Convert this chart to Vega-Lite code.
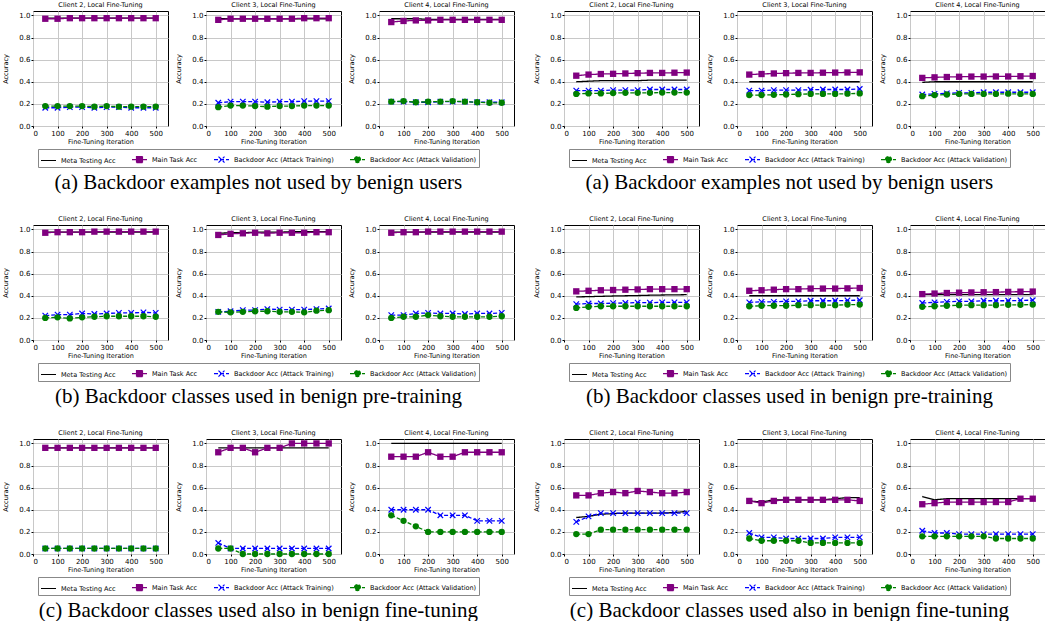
{
"$schema":"https://vega.github.io/schema/vega-lite/v6.json",
"padding":{"left":2,"top":1,"right":0,"bottom":0},
"config":{"font":"DejaVu Sans","view":{"stroke":"black","strokeWidth":1},
"axis":{"labelFontSize":7,"titleFontSize":6.5,"titleFontWeight":"normal","labelColor":"black","titleColor":"black","tickColor":"black","tickSize":2,"domain":false,"gridColor":"#c8c8c8","gridWidth":1,"labelPadding":1,"titlePadding":2,"labelFont":"DejaVu Sans","titleFont":"DejaVu Sans"},
"axisY":{"titlePadding":10},
"title":{"font":"Liberation Serif","fontSize":21,"fontWeight":"normal","orient":"bottom","color":"black","offset":4,"anchor":"middle"},
"legend":{"orient":"bottom","direction":"horizontal","title":null,"columns":4,"symbolSize":225,"symbolStrokeWidth":1.2,"labelFontSize":6.5,"labelFont":"DejaVu Sans","labelColor":"black","labelOffset":4,"columnPadding":13,"padding":2,"strokeColor":"#888","offset":4,"layout":{"bottom":{"anchor":"middle"}}},
"header":{"labelFontSize":6.5,"labelFont":"DejaVu Sans","labelColor":"black","labelPadding":2}},
"data":{"values":[
{"g":"aL","c":2,"it":50,"meta":0.975,"main":0.97,"train":0.165,"val":0.18},
{"g":"aL","c":2,"it":100,"meta":0.975,"main":0.97,"train":0.165,"val":0.18},
{"g":"aL","c":2,"it":150,"meta":0.975,"main":0.975,"train":0.17,"val":0.18},
{"g":"aL","c":2,"it":200,"meta":0.975,"main":0.975,"train":0.17,"val":0.18},
{"g":"aL","c":2,"it":250,"meta":0.975,"main":0.975,"train":0.165,"val":0.175},
{"g":"aL","c":2,"it":300,"meta":0.975,"main":0.975,"train":0.17,"val":0.18},
{"g":"aL","c":2,"it":350,"meta":0.975,"main":0.975,"train":0.17,"val":0.175},
{"g":"aL","c":2,"it":400,"meta":0.975,"main":0.975,"train":0.165,"val":0.175},
{"g":"aL","c":2,"it":450,"meta":0.975,"main":0.975,"train":0.165,"val":0.175},
{"g":"aL","c":2,"it":500,"meta":0.975,"main":0.975,"train":0.165,"val":0.175},
{"g":"aL","c":3,"it":50,"meta":0.97,"main":0.96,"train":0.21,"val":0.17},
{"g":"aL","c":3,"it":100,"meta":0.97,"main":0.97,"train":0.22,"val":0.185},
{"g":"aL","c":3,"it":150,"meta":0.97,"main":0.97,"train":0.22,"val":0.185},
{"g":"aL","c":3,"it":200,"meta":0.97,"main":0.97,"train":0.22,"val":0.18},
{"g":"aL","c":3,"it":250,"meta":0.97,"main":0.97,"train":0.215,"val":0.175},
{"g":"aL","c":3,"it":300,"meta":0.97,"main":0.97,"train":0.22,"val":0.18},
{"g":"aL","c":3,"it":350,"meta":0.97,"main":0.97,"train":0.22,"val":0.18},
{"g":"aL","c":3,"it":400,"meta":0.97,"main":0.975,"train":0.225,"val":0.185},
{"g":"aL","c":3,"it":450,"meta":0.97,"main":0.975,"train":0.225,"val":0.185},
{"g":"aL","c":3,"it":500,"meta":0.97,"main":0.975,"train":0.225,"val":0.185},
{"g":"aL","c":4,"it":50,"meta":0.97,"main":0.94,"train":0.22,"val":0.22},
{"g":"aL","c":4,"it":100,"meta":0.97,"main":0.95,"train":0.22,"val":0.225},
{"g":"aL","c":4,"it":150,"meta":0.97,"main":0.955,"train":0.215,"val":0.215},
{"g":"aL","c":4,"it":200,"meta":0.965,"main":0.955,"train":0.215,"val":0.22},
{"g":"aL","c":4,"it":250,"meta":0.965,"main":0.96,"train":0.22,"val":0.22},
{"g":"aL","c":4,"it":300,"meta":0.965,"main":0.96,"train":0.22,"val":0.225},
{"g":"aL","c":4,"it":350,"meta":0.965,"main":0.96,"train":0.22,"val":0.22},
{"g":"aL","c":4,"it":400,"meta":0.965,"main":0.96,"train":0.215,"val":0.215},
{"g":"aL","c":4,"it":450,"meta":0.965,"main":0.96,"train":0.215,"val":0.21},
{"g":"aL","c":4,"it":500,"meta":0.965,"main":0.96,"train":0.215,"val":0.21},
{"g":"bL","c":2,"it":50,"meta":0.975,"main":0.97,"train":0.22,"val":0.2},
{"g":"bL","c":2,"it":100,"meta":0.975,"main":0.975,"train":0.23,"val":0.205},
{"g":"bL","c":2,"it":150,"meta":0.975,"main":0.975,"train":0.23,"val":0.195},
{"g":"bL","c":2,"it":200,"meta":0.975,"main":0.975,"train":0.24,"val":0.205},
{"g":"bL","c":2,"it":250,"meta":0.975,"main":0.98,"train":0.235,"val":0.21},
{"g":"bL","c":2,"it":300,"meta":0.975,"main":0.98,"train":0.24,"val":0.215},
{"g":"bL","c":2,"it":350,"meta":0.975,"main":0.98,"train":0.245,"val":0.215},
{"g":"bL","c":2,"it":400,"meta":0.975,"main":0.98,"train":0.245,"val":0.215},
{"g":"bL","c":2,"it":450,"meta":0.975,"main":0.98,"train":0.25,"val":0.215},
{"g":"bL","c":2,"it":500,"meta":0.975,"main":0.98,"train":0.245,"val":0.21},
{"g":"bL","c":3,"it":50,"meta":0.965,"main":0.95,"train":0.255,"val":0.255},
{"g":"bL","c":3,"it":100,"meta":0.97,"main":0.96,"train":0.26,"val":0.25},
{"g":"bL","c":3,"it":150,"meta":0.97,"main":0.965,"train":0.27,"val":0.255},
{"g":"bL","c":3,"it":200,"meta":0.975,"main":0.97,"train":0.27,"val":0.26},
{"g":"bL","c":3,"it":250,"meta":0.975,"main":0.965,"train":0.28,"val":0.26},
{"g":"bL","c":3,"it":300,"meta":0.975,"main":0.97,"train":0.275,"val":0.255},
{"g":"bL","c":3,"it":350,"meta":0.98,"main":0.97,"train":0.275,"val":0.255},
{"g":"bL","c":3,"it":400,"meta":0.98,"main":0.97,"train":0.275,"val":0.25},
{"g":"bL","c":3,"it":450,"meta":0.98,"main":0.975,"train":0.28,"val":0.265},
{"g":"bL","c":3,"it":500,"meta":0.98,"main":0.975,"train":0.285,"val":0.27},
{"g":"bL","c":4,"it":50,"meta":0.975,"main":0.97,"train":0.225,"val":0.2},
{"g":"bL","c":4,"it":100,"meta":0.975,"main":0.975,"train":0.225,"val":0.21},
{"g":"bL","c":4,"it":150,"meta":0.975,"main":0.975,"train":0.24,"val":0.21},
{"g":"bL","c":4,"it":200,"meta":0.975,"main":0.98,"train":0.245,"val":0.225},
{"g":"bL","c":4,"it":250,"meta":0.975,"main":0.98,"train":0.24,"val":0.215},
{"g":"bL","c":4,"it":300,"meta":0.975,"main":0.98,"train":0.24,"val":0.21},
{"g":"bL","c":4,"it":350,"meta":0.975,"main":0.98,"train":0.235,"val":0.21},
{"g":"bL","c":4,"it":400,"meta":0.975,"main":0.98,"train":0.24,"val":0.21},
{"g":"bL","c":4,"it":450,"meta":0.975,"main":0.98,"train":0.24,"val":0.21},
{"g":"bL","c":4,"it":500,"meta":0.975,"main":0.98,"train":0.245,"val":0.215},
{"g":"cL","c":2,"it":50,"meta":0.96,"main":0.96,"train":0.05,"val":0.05},
{"g":"cL","c":2,"it":100,"meta":0.96,"main":0.96,"train":0.05,"val":0.05},
{"g":"cL","c":2,"it":150,"meta":0.96,"main":0.96,"train":0.05,"val":0.05},
{"g":"cL","c":2,"it":200,"meta":0.96,"main":0.96,"train":0.05,"val":0.05},
{"g":"cL","c":2,"it":250,"meta":0.96,"main":0.96,"train":0.05,"val":0.05},
{"g":"cL","c":2,"it":300,"meta":0.96,"main":0.96,"train":0.05,"val":0.05},
{"g":"cL","c":2,"it":350,"meta":0.96,"main":0.96,"train":0.05,"val":0.05},
{"g":"cL","c":2,"it":400,"meta":0.96,"main":0.96,"train":0.05,"val":0.05},
{"g":"cL","c":2,"it":450,"meta":0.96,"main":0.96,"train":0.05,"val":0.05},
{"g":"cL","c":2,"it":500,"meta":0.96,"main":0.96,"train":0.05,"val":0.05},
{"g":"cL","c":3,"it":50,"meta":0.96,"main":0.92,"train":0.1,"val":0.05},
{"g":"cL","c":3,"it":100,"meta":0.96,"main":0.96,"train":0.05,"val":0.05},
{"g":"cL","c":3,"it":150,"meta":0.96,"main":0.96,"train":0.05,"val":0.0},
{"g":"cL","c":3,"it":200,"meta":0.96,"main":0.92,"train":0.05,"val":0.0},
{"g":"cL","c":3,"it":250,"meta":0.96,"main":0.96,"train":0.05,"val":0.0},
{"g":"cL","c":3,"it":300,"meta":0.96,"main":0.96,"train":0.05,"val":0.0},
{"g":"cL","c":3,"it":350,"meta":0.96,"main":1.0,"train":0.05,"val":0.0},
{"g":"cL","c":3,"it":400,"meta":0.96,"main":1.0,"train":0.05,"val":0.0},
{"g":"cL","c":3,"it":450,"meta":0.96,"main":1.0,"train":0.05,"val":0.0},
{"g":"cL","c":3,"it":500,"meta":0.96,"main":1.0,"train":0.05,"val":0.0},
{"g":"cL","c":4,"it":50,"meta":1.0,"main":0.88,"train":0.4,"val":0.35},
{"g":"cL","c":4,"it":100,"meta":1.0,"main":0.88,"train":0.4,"val":0.3},
{"g":"cL","c":4,"it":150,"meta":1.0,"main":0.88,"train":0.4,"val":0.25},
{"g":"cL","c":4,"it":200,"meta":1.0,"main":0.92,"train":0.4,"val":0.2},
{"g":"cL","c":4,"it":250,"meta":1.0,"main":0.88,"train":0.35,"val":0.2},
{"g":"cL","c":4,"it":300,"meta":1.0,"main":0.88,"train":0.35,"val":0.2},
{"g":"cL","c":4,"it":350,"meta":1.0,"main":0.92,"train":0.35,"val":0.2},
{"g":"cL","c":4,"it":400,"meta":1.0,"main":0.92,"train":0.3,"val":0.2},
{"g":"cL","c":4,"it":450,"meta":1.0,"main":0.92,"train":0.3,"val":0.2},
{"g":"cL","c":4,"it":500,"meta":1.0,"main":0.92,"train":0.3,"val":0.2},
{"g":"aR","c":2,"it":50,"meta":0.4,"main":0.455,"train":0.32,"val":0.29},
{"g":"aR","c":2,"it":100,"meta":0.405,"main":0.465,"train":0.32,"val":0.295},
{"g":"aR","c":2,"it":150,"meta":0.41,"main":0.47,"train":0.32,"val":0.295},
{"g":"aR","c":2,"it":200,"meta":0.41,"main":0.472,"train":0.325,"val":0.298},
{"g":"aR","c":2,"it":250,"meta":0.41,"main":0.475,"train":0.325,"val":0.3},
{"g":"aR","c":2,"it":300,"meta":0.41,"main":0.478,"train":0.325,"val":0.3},
{"g":"aR","c":2,"it":350,"meta":0.415,"main":0.48,"train":0.33,"val":0.3},
{"g":"aR","c":2,"it":400,"meta":0.415,"main":0.48,"train":0.33,"val":0.302},
{"g":"aR","c":2,"it":450,"meta":0.415,"main":0.482,"train":0.33,"val":0.302},
{"g":"aR","c":2,"it":500,"meta":0.415,"main":0.483,"train":0.33,"val":0.302},
{"g":"aR","c":3,"it":50,"meta":0.4,"main":0.465,"train":0.32,"val":0.28},
{"g":"aR","c":3,"it":100,"meta":0.4,"main":0.47,"train":0.32,"val":0.28},
{"g":"aR","c":3,"it":150,"meta":0.4,"main":0.475,"train":0.325,"val":0.282},
{"g":"aR","c":3,"it":200,"meta":0.4,"main":0.478,"train":0.325,"val":0.285},
{"g":"aR","c":3,"it":250,"meta":0.4,"main":0.48,"train":0.325,"val":0.288},
{"g":"aR","c":3,"it":300,"meta":0.4,"main":0.48,"train":0.328,"val":0.29},
{"g":"aR","c":3,"it":350,"meta":0.4,"main":0.482,"train":0.33,"val":0.29},
{"g":"aR","c":3,"it":400,"meta":0.4,"main":0.483,"train":0.33,"val":0.29},
{"g":"aR","c":3,"it":450,"meta":0.4,"main":0.484,"train":0.33,"val":0.292},
{"g":"aR","c":3,"it":500,"meta":0.4,"main":0.485,"train":0.335,"val":0.295},
{"g":"aR","c":4,"it":50,"meta":0.395,"main":0.435,"train":0.285,"val":0.27},
{"g":"aR","c":4,"it":100,"meta":0.4,"main":0.44,"train":0.29,"val":0.28},
{"g":"aR","c":4,"it":150,"meta":0.4,"main":0.443,"train":0.295,"val":0.285},
{"g":"aR","c":4,"it":200,"meta":0.4,"main":0.445,"train":0.3,"val":0.29},
{"g":"aR","c":4,"it":250,"meta":0.4,"main":0.447,"train":0.3,"val":0.29},
{"g":"aR","c":4,"it":300,"meta":0.4,"main":0.447,"train":0.305,"val":0.29},
{"g":"aR","c":4,"it":350,"meta":0.4,"main":0.448,"train":0.305,"val":0.29},
{"g":"aR","c":4,"it":400,"meta":0.4,"main":0.448,"train":0.305,"val":0.292},
{"g":"aR","c":4,"it":450,"meta":0.4,"main":0.45,"train":0.305,"val":0.29},
{"g":"aR","c":4,"it":500,"meta":0.4,"main":0.452,"train":0.305,"val":0.29},
{"g":"bR","c":2,"it":50,"meta":0.39,"main":0.44,"train":0.325,"val":0.29},
{"g":"bR","c":2,"it":100,"meta":0.392,"main":0.445,"train":0.33,"val":0.3},
{"g":"bR","c":2,"it":150,"meta":0.395,"main":0.45,"train":0.33,"val":0.305},
{"g":"bR","c":2,"it":200,"meta":0.398,"main":0.452,"train":0.333,"val":0.305},
{"g":"bR","c":2,"it":250,"meta":0.4,"main":0.455,"train":0.335,"val":0.305},
{"g":"bR","c":2,"it":300,"meta":0.402,"main":0.457,"train":0.338,"val":0.305},
{"g":"bR","c":2,"it":350,"meta":0.405,"main":0.46,"train":0.338,"val":0.305},
{"g":"bR","c":2,"it":400,"meta":0.407,"main":0.46,"train":0.34,"val":0.305},
{"g":"bR","c":2,"it":450,"meta":0.408,"main":0.46,"train":0.34,"val":0.305},
{"g":"bR","c":2,"it":500,"meta":0.41,"main":0.46,"train":0.34,"val":0.305},
{"g":"bR","c":3,"it":50,"meta":0.4,"main":0.445,"train":0.34,"val":0.305},
{"g":"bR","c":3,"it":100,"meta":0.4,"main":0.45,"train":0.345,"val":0.31},
{"g":"bR","c":3,"it":150,"meta":0.4,"main":0.455,"train":0.345,"val":0.31},
{"g":"bR","c":3,"it":200,"meta":0.4,"main":0.46,"train":0.35,"val":0.31},
{"g":"bR","c":3,"it":250,"meta":0.4,"main":0.46,"train":0.35,"val":0.315},
{"g":"bR","c":3,"it":300,"meta":0.4,"main":0.465,"train":0.355,"val":0.315},
{"g":"bR","c":3,"it":350,"meta":0.4,"main":0.465,"train":0.355,"val":0.315},
{"g":"bR","c":3,"it":400,"meta":0.4,"main":0.465,"train":0.355,"val":0.315},
{"g":"bR","c":3,"it":450,"meta":0.4,"main":0.467,"train":0.358,"val":0.32},
{"g":"bR","c":3,"it":500,"meta":0.4,"main":0.47,"train":0.36,"val":0.32},
{"g":"bR","c":4,"it":50,"meta":0.41,"main":0.415,"train":0.335,"val":0.3},
{"g":"bR","c":4,"it":100,"meta":0.41,"main":0.42,"train":0.34,"val":0.305},
{"g":"bR","c":4,"it":150,"meta":0.41,"main":0.425,"train":0.345,"val":0.31},
{"g":"bR","c":4,"it":200,"meta":0.41,"main":0.428,"train":0.35,"val":0.315},
{"g":"bR","c":4,"it":250,"meta":0.41,"main":0.43,"train":0.35,"val":0.315},
{"g":"bR","c":4,"it":300,"meta":0.41,"main":0.432,"train":0.355,"val":0.315},
{"g":"bR","c":4,"it":350,"meta":0.41,"main":0.433,"train":0.355,"val":0.315},
{"g":"bR","c":4,"it":400,"meta":0.41,"main":0.435,"train":0.355,"val":0.318},
{"g":"bR","c":4,"it":450,"meta":0.41,"main":0.437,"train":0.358,"val":0.318},
{"g":"bR","c":4,"it":500,"meta":0.41,"main":0.438,"train":0.36,"val":0.32},
{"g":"cR","c":2,"it":50,"meta":0.33,"main":0.53,"train":0.29,"val":0.18},
{"g":"cR","c":2,"it":100,"meta":0.34,"main":0.53,"train":0.34,"val":0.18},
{"g":"cR","c":2,"it":150,"meta":0.36,"main":0.55,"train":0.37,"val":0.22},
{"g":"cR","c":2,"it":200,"meta":0.365,"main":0.56,"train":0.37,"val":0.22},
{"g":"cR","c":2,"it":250,"meta":0.37,"main":0.55,"train":0.37,"val":0.22},
{"g":"cR","c":2,"it":300,"meta":0.37,"main":0.57,"train":0.37,"val":0.22},
{"g":"cR","c":2,"it":350,"meta":0.37,"main":0.56,"train":0.37,"val":0.22},
{"g":"cR","c":2,"it":400,"meta":0.37,"main":0.55,"train":0.37,"val":0.22},
{"g":"cR","c":2,"it":450,"meta":0.375,"main":0.55,"train":0.37,"val":0.22},
{"g":"cR","c":2,"it":500,"meta":0.385,"main":0.56,"train":0.37,"val":0.22},
{"g":"cR","c":3,"it":50,"meta":0.48,"main":0.48,"train":0.19,"val":0.14},
{"g":"cR","c":3,"it":100,"meta":0.47,"main":0.46,"train":0.15,"val":0.12},
{"g":"cR","c":3,"it":150,"meta":0.49,"main":0.48,"train":0.15,"val":0.12},
{"g":"cR","c":3,"it":200,"meta":0.49,"main":0.49,"train":0.14,"val":0.12},
{"g":"cR","c":3,"it":250,"meta":0.49,"main":0.49,"train":0.14,"val":0.12},
{"g":"cR","c":3,"it":300,"meta":0.49,"main":0.49,"train":0.14,"val":0.1},
{"g":"cR","c":3,"it":350,"meta":0.49,"main":0.49,"train":0.14,"val":0.1},
{"g":"cR","c":3,"it":400,"meta":0.5,"main":0.49,"train":0.15,"val":0.1},
{"g":"cR","c":3,"it":450,"meta":0.51,"main":0.49,"train":0.15,"val":0.1},
{"g":"cR","c":3,"it":500,"meta":0.51,"main":0.48,"train":0.15,"val":0.1},
{"g":"cR","c":4,"it":50,"meta":0.52,"main":0.45,"train":0.21,"val":0.16},
{"g":"cR","c":4,"it":100,"meta":0.49,"main":0.46,"train":0.19,"val":0.16},
{"g":"cR","c":4,"it":150,"meta":0.5,"main":0.47,"train":0.19,"val":0.16},
{"g":"cR","c":4,"it":200,"meta":0.5,"main":0.47,"train":0.18,"val":0.16},
{"g":"cR","c":4,"it":250,"meta":0.5,"main":0.47,"train":0.18,"val":0.16},
{"g":"cR","c":4,"it":300,"meta":0.5,"main":0.47,"train":0.18,"val":0.16},
{"g":"cR","c":4,"it":350,"meta":0.5,"main":0.47,"train":0.18,"val":0.14},
{"g":"cR","c":4,"it":400,"meta":0.5,"main":0.47,"train":0.18,"val":0.14},
{"g":"cR","c":4,"it":450,"meta":0.5,"main":0.5,"train":0.18,"val":0.14},
{"g":"cR","c":4,"it":500,"meta":0.5,"main":0.5,"train":0.18,"val":0.14}
]},
"transform":[{"fold":["meta","main","train","val"],"as":["series","value"]}],
"spacing":22,
"vconcat":[
{"hconcat":[
{"transform":[{"filter":"datum.g == 'aL'"}],"title":{"text":"(a) Backdoor examples not used by benign users"},
"facet":{"column":{"field":"c","type":"ordinal","header":{"title":null,"labelExpr":"'Client ' + datum.value + ', Local Fine-Tuning'"}}},
"spacing":6,"resolve":{"axis":{"y":"independent","x":"independent"}},
"spec":{"width":135,"height":115,
"encoding":{"x":{"field":"it","type":"quantitative","scale":{"domain":[0,550]},"axis":{"values":[0,100,200,300,400,500],"title":"Fine-Tuning Iteration"}},"y":{"field":"value","type":"quantitative","scale":{"domain":[0,1.04]},"axis":{"values":[0,0.2,0.4,0.6,0.8,1],"format":".1f","title":"Accuracy"}}},
"layer":[
{"mark":{"type":"line","strokeWidth":1.3},"encoding":{"color":{"field":"series","type":"nominal","scale":{"domain":["meta","main","train","val"],"range":["black","#800080","#0000ff","#008000"]},"legend":{"labelExpr":"datum.value=='meta'?'Meta Testing Acc':datum.value=='main'?'Main Task Acc':datum.value=='train'?'Backdoor Acc (Attack Training)':'Backdoor Acc (Attack Validation)'","encode":{"symbols":{"update":{"shape":{"signal":"datum.value=='meta'?'M-1,0L1,0':datum.value=='main'?'M-1,0L1,0M-0.4,-0.4L0.4,-0.4L0.4,0.4L-0.4,0.4Z':datum.value=='train'?'M-1,0L1,0M-0.4,-0.4L0.4,0.4M-0.4,0.4L0.4,-0.4':'M-1,0L1,0M-0.4,0A0.4,0.4,0,1,1,0.4,0A0.4,0.4,0,1,1,-0.4,0Z'"},"fill":{"signal":"datum.value=='main'?'#800080':datum.value=='val'?'#008000':'transparent'"},"stroke":{"signal":"datum.value=='meta'?'black':datum.value=='main'?'#800080':datum.value=='train'?'#0000ff':'#008000'"},"strokeDash":{"signal":"(datum.value=='train'||datum.value=='val')?[3,2]:[1,0]"}}}}}},"strokeDash":{"field":"series","type":"nominal","scale":{"domain":["meta","main","train","val"],"range":[[1,0],[1,0],[4,2],[4,2]]},"legend":null}}},
{"transform":[{"filter":"datum.series=='main'"}],"mark":{"type":"point","shape":"square","filled":true,"color":"#800080","size":40,"opacity":1}},
{"transform":[{"filter":"datum.series=='train'"}],"mark":{"type":"point","shape":"M-1,-1L1,1M-1,1L1,-1","filled":false,"color":"#0000ff","size":30,"strokeWidth":1.2,"opacity":1}},
{"transform":[{"filter":"datum.series=='val'"}],"mark":{"type":"point","shape":"circle","filled":true,"color":"#008000","size":40,"opacity":1}}
]}},
{"transform":[{"filter":"datum.g == 'aR'"}],"title":{"text":"(a) Backdoor examples not used by benign users"},
"facet":{"column":{"field":"c","type":"ordinal","header":{"title":null,"labelExpr":"'Client ' + datum.value + ', Local Fine-Tuning'"}}},
"spacing":6,"resolve":{"axis":{"y":"independent","x":"independent"}},
"spec":{"width":135,"height":115,
"encoding":{"x":{"field":"it","type":"quantitative","scale":{"domain":[0,550]},"axis":{"values":[0,100,200,300,400,500],"title":"Fine-Tuning Iteration"}},"y":{"field":"value","type":"quantitative","scale":{"domain":[0,1.04]},"axis":{"values":[0,0.2,0.4,0.6,0.8,1],"format":".1f","title":"Accuracy"}}},
"layer":[
{"mark":{"type":"line","strokeWidth":1.3},"encoding":{"color":{"field":"series","type":"nominal","scale":{"domain":["meta","main","train","val"],"range":["black","#800080","#0000ff","#008000"]},"legend":{"labelExpr":"datum.value=='meta'?'Meta Testing Acc':datum.value=='main'?'Main Task Acc':datum.value=='train'?'Backdoor Acc (Attack Training)':'Backdoor Acc (Attack Validation)'","encode":{"symbols":{"update":{"shape":{"signal":"datum.value=='meta'?'M-1,0L1,0':datum.value=='main'?'M-1,0L1,0M-0.4,-0.4L0.4,-0.4L0.4,0.4L-0.4,0.4Z':datum.value=='train'?'M-1,0L1,0M-0.4,-0.4L0.4,0.4M-0.4,0.4L0.4,-0.4':'M-1,0L1,0M-0.4,0A0.4,0.4,0,1,1,0.4,0A0.4,0.4,0,1,1,-0.4,0Z'"},"fill":{"signal":"datum.value=='main'?'#800080':datum.value=='val'?'#008000':'transparent'"},"stroke":{"signal":"datum.value=='meta'?'black':datum.value=='main'?'#800080':datum.value=='train'?'#0000ff':'#008000'"},"strokeDash":{"signal":"(datum.value=='train'||datum.value=='val')?[3,2]:[1,0]"}}}}}},"strokeDash":{"field":"series","type":"nominal","scale":{"domain":["meta","main","train","val"],"range":[[1,0],[1,0],[4,2],[4,2]]},"legend":null}}},
{"transform":[{"filter":"datum.series=='main'"}],"mark":{"type":"point","shape":"square","filled":true,"color":"#800080","size":40,"opacity":1}},
{"transform":[{"filter":"datum.series=='train'"}],"mark":{"type":"point","shape":"M-1,-1L1,1M-1,1L1,-1","filled":false,"color":"#0000ff","size":30,"strokeWidth":1.2,"opacity":1}},
{"transform":[{"filter":"datum.series=='val'"}],"mark":{"type":"point","shape":"circle","filled":true,"color":"#008000","size":40,"opacity":1}}
]}}
],"spacing":18,"resolve":{"scale":{"color":"independent","strokeDash":"independent"},"legend":{"color":"independent","strokeDash":"independent"}}},
{"hconcat":[
{"transform":[{"filter":"datum.g == 'bL'"}],"title":{"text":"(b) Backdoor classes used in benign pre-training"},
"facet":{"column":{"field":"c","type":"ordinal","header":{"title":null,"labelExpr":"'Client ' + datum.value + ', Local Fine-Tuning'"}}},
"spacing":6,"resolve":{"axis":{"y":"independent","x":"independent"}},
"spec":{"width":135,"height":115,
"encoding":{"x":{"field":"it","type":"quantitative","scale":{"domain":[0,550]},"axis":{"values":[0,100,200,300,400,500],"title":"Fine-Tuning Iteration"}},"y":{"field":"value","type":"quantitative","scale":{"domain":[0,1.04]},"axis":{"values":[0,0.2,0.4,0.6,0.8,1],"format":".1f","title":"Accuracy"}}},
"layer":[
{"mark":{"type":"line","strokeWidth":1.3},"encoding":{"color":{"field":"series","type":"nominal","scale":{"domain":["meta","main","train","val"],"range":["black","#800080","#0000ff","#008000"]},"legend":{"labelExpr":"datum.value=='meta'?'Meta Testing Acc':datum.value=='main'?'Main Task Acc':datum.value=='train'?'Backdoor Acc (Attack Training)':'Backdoor Acc (Attack Validation)'","encode":{"symbols":{"update":{"shape":{"signal":"datum.value=='meta'?'M-1,0L1,0':datum.value=='main'?'M-1,0L1,0M-0.4,-0.4L0.4,-0.4L0.4,0.4L-0.4,0.4Z':datum.value=='train'?'M-1,0L1,0M-0.4,-0.4L0.4,0.4M-0.4,0.4L0.4,-0.4':'M-1,0L1,0M-0.4,0A0.4,0.4,0,1,1,0.4,0A0.4,0.4,0,1,1,-0.4,0Z'"},"fill":{"signal":"datum.value=='main'?'#800080':datum.value=='val'?'#008000':'transparent'"},"stroke":{"signal":"datum.value=='meta'?'black':datum.value=='main'?'#800080':datum.value=='train'?'#0000ff':'#008000'"},"strokeDash":{"signal":"(datum.value=='train'||datum.value=='val')?[3,2]:[1,0]"}}}}}},"strokeDash":{"field":"series","type":"nominal","scale":{"domain":["meta","main","train","val"],"range":[[1,0],[1,0],[4,2],[4,2]]},"legend":null}}},
{"transform":[{"filter":"datum.series=='main'"}],"mark":{"type":"point","shape":"square","filled":true,"color":"#800080","size":40,"opacity":1}},
{"transform":[{"filter":"datum.series=='train'"}],"mark":{"type":"point","shape":"M-1,-1L1,1M-1,1L1,-1","filled":false,"color":"#0000ff","size":30,"strokeWidth":1.2,"opacity":1}},
{"transform":[{"filter":"datum.series=='val'"}],"mark":{"type":"point","shape":"circle","filled":true,"color":"#008000","size":40,"opacity":1}}
]}},
{"transform":[{"filter":"datum.g == 'bR'"}],"title":{"text":"(b) Backdoor classes used in benign pre-training"},
"facet":{"column":{"field":"c","type":"ordinal","header":{"title":null,"labelExpr":"'Client ' + datum.value + ', Local Fine-Tuning'"}}},
"spacing":6,"resolve":{"axis":{"y":"independent","x":"independent"}},
"spec":{"width":135,"height":115,
"encoding":{"x":{"field":"it","type":"quantitative","scale":{"domain":[0,550]},"axis":{"values":[0,100,200,300,400,500],"title":"Fine-Tuning Iteration"}},"y":{"field":"value","type":"quantitative","scale":{"domain":[0,1.04]},"axis":{"values":[0,0.2,0.4,0.6,0.8,1],"format":".1f","title":"Accuracy"}}},
"layer":[
{"mark":{"type":"line","strokeWidth":1.3},"encoding":{"color":{"field":"series","type":"nominal","scale":{"domain":["meta","main","train","val"],"range":["black","#800080","#0000ff","#008000"]},"legend":{"labelExpr":"datum.value=='meta'?'Meta Testing Acc':datum.value=='main'?'Main Task Acc':datum.value=='train'?'Backdoor Acc (Attack Training)':'Backdoor Acc (Attack Validation)'","encode":{"symbols":{"update":{"shape":{"signal":"datum.value=='meta'?'M-1,0L1,0':datum.value=='main'?'M-1,0L1,0M-0.4,-0.4L0.4,-0.4L0.4,0.4L-0.4,0.4Z':datum.value=='train'?'M-1,0L1,0M-0.4,-0.4L0.4,0.4M-0.4,0.4L0.4,-0.4':'M-1,0L1,0M-0.4,0A0.4,0.4,0,1,1,0.4,0A0.4,0.4,0,1,1,-0.4,0Z'"},"fill":{"signal":"datum.value=='main'?'#800080':datum.value=='val'?'#008000':'transparent'"},"stroke":{"signal":"datum.value=='meta'?'black':datum.value=='main'?'#800080':datum.value=='train'?'#0000ff':'#008000'"},"strokeDash":{"signal":"(datum.value=='train'||datum.value=='val')?[3,2]:[1,0]"}}}}}},"strokeDash":{"field":"series","type":"nominal","scale":{"domain":["meta","main","train","val"],"range":[[1,0],[1,0],[4,2],[4,2]]},"legend":null}}},
{"transform":[{"filter":"datum.series=='main'"}],"mark":{"type":"point","shape":"square","filled":true,"color":"#800080","size":40,"opacity":1}},
{"transform":[{"filter":"datum.series=='train'"}],"mark":{"type":"point","shape":"M-1,-1L1,1M-1,1L1,-1","filled":false,"color":"#0000ff","size":30,"strokeWidth":1.2,"opacity":1}},
{"transform":[{"filter":"datum.series=='val'"}],"mark":{"type":"point","shape":"circle","filled":true,"color":"#008000","size":40,"opacity":1}}
]}}
],"spacing":18,"resolve":{"scale":{"color":"independent","strokeDash":"independent"},"legend":{"color":"independent","strokeDash":"independent"}}},
{"hconcat":[
{"transform":[{"filter":"datum.g == 'cL'"}],"title":{"text":"(c) Backdoor classes used also in benign fine-tuning"},
"facet":{"column":{"field":"c","type":"ordinal","header":{"title":null,"labelExpr":"'Client ' + datum.value + ', Local Fine-Tuning'"}}},
"spacing":6,"resolve":{"axis":{"y":"independent","x":"independent"}},
"spec":{"width":135,"height":115,
"encoding":{"x":{"field":"it","type":"quantitative","scale":{"domain":[0,550]},"axis":{"values":[0,100,200,300,400,500],"title":"Fine-Tuning Iteration"}},"y":{"field":"value","type":"quantitative","scale":{"domain":[0,1.04]},"axis":{"values":[0,0.2,0.4,0.6,0.8,1],"format":".1f","title":"Accuracy"}}},
"layer":[
{"mark":{"type":"line","strokeWidth":1.3},"encoding":{"color":{"field":"series","type":"nominal","scale":{"domain":["meta","main","train","val"],"range":["black","#800080","#0000ff","#008000"]},"legend":{"labelExpr":"datum.value=='meta'?'Meta Testing Acc':datum.value=='main'?'Main Task Acc':datum.value=='train'?'Backdoor Acc (Attack Training)':'Backdoor Acc (Attack Validation)'","encode":{"symbols":{"update":{"shape":{"signal":"datum.value=='meta'?'M-1,0L1,0':datum.value=='main'?'M-1,0L1,0M-0.4,-0.4L0.4,-0.4L0.4,0.4L-0.4,0.4Z':datum.value=='train'?'M-1,0L1,0M-0.4,-0.4L0.4,0.4M-0.4,0.4L0.4,-0.4':'M-1,0L1,0M-0.4,0A0.4,0.4,0,1,1,0.4,0A0.4,0.4,0,1,1,-0.4,0Z'"},"fill":{"signal":"datum.value=='main'?'#800080':datum.value=='val'?'#008000':'transparent'"},"stroke":{"signal":"datum.value=='meta'?'black':datum.value=='main'?'#800080':datum.value=='train'?'#0000ff':'#008000'"},"strokeDash":{"signal":"(datum.value=='train'||datum.value=='val')?[3,2]:[1,0]"}}}}}},"strokeDash":{"field":"series","type":"nominal","scale":{"domain":["meta","main","train","val"],"range":[[1,0],[1,0],[4,2],[4,2]]},"legend":null}}},
{"transform":[{"filter":"datum.series=='main'"}],"mark":{"type":"point","shape":"square","filled":true,"color":"#800080","size":40,"opacity":1}},
{"transform":[{"filter":"datum.series=='train'"}],"mark":{"type":"point","shape":"M-1,-1L1,1M-1,1L1,-1","filled":false,"color":"#0000ff","size":30,"strokeWidth":1.2,"opacity":1}},
{"transform":[{"filter":"datum.series=='val'"}],"mark":{"type":"point","shape":"circle","filled":true,"color":"#008000","size":40,"opacity":1}}
]}},
{"transform":[{"filter":"datum.g == 'cR'"}],"title":{"text":"(c) Backdoor classes used also in benign fine-tuning"},
"facet":{"column":{"field":"c","type":"ordinal","header":{"title":null,"labelExpr":"'Client ' + datum.value + ', Local Fine-Tuning'"}}},
"spacing":6,"resolve":{"axis":{"y":"independent","x":"independent"}},
"spec":{"width":135,"height":115,
"encoding":{"x":{"field":"it","type":"quantitative","scale":{"domain":[0,550]},"axis":{"values":[0,100,200,300,400,500],"title":"Fine-Tuning Iteration"}},"y":{"field":"value","type":"quantitative","scale":{"domain":[0,1.04]},"axis":{"values":[0,0.2,0.4,0.6,0.8,1],"format":".1f","title":"Accuracy"}}},
"layer":[
{"mark":{"type":"line","strokeWidth":1.3},"encoding":{"color":{"field":"series","type":"nominal","scale":{"domain":["meta","main","train","val"],"range":["black","#800080","#0000ff","#008000"]},"legend":{"labelExpr":"datum.value=='meta'?'Meta Testing Acc':datum.value=='main'?'Main Task Acc':datum.value=='train'?'Backdoor Acc (Attack Training)':'Backdoor Acc (Attack Validation)'","encode":{"symbols":{"update":{"shape":{"signal":"datum.value=='meta'?'M-1,0L1,0':datum.value=='main'?'M-1,0L1,0M-0.4,-0.4L0.4,-0.4L0.4,0.4L-0.4,0.4Z':datum.value=='train'?'M-1,0L1,0M-0.4,-0.4L0.4,0.4M-0.4,0.4L0.4,-0.4':'M-1,0L1,0M-0.4,0A0.4,0.4,0,1,1,0.4,0A0.4,0.4,0,1,1,-0.4,0Z'"},"fill":{"signal":"datum.value=='main'?'#800080':datum.value=='val'?'#008000':'transparent'"},"stroke":{"signal":"datum.value=='meta'?'black':datum.value=='main'?'#800080':datum.value=='train'?'#0000ff':'#008000'"},"strokeDash":{"signal":"(datum.value=='train'||datum.value=='val')?[3,2]:[1,0]"}}}}}},"strokeDash":{"field":"series","type":"nominal","scale":{"domain":["meta","main","train","val"],"range":[[1,0],[1,0],[4,2],[4,2]]},"legend":null}}},
{"transform":[{"filter":"datum.series=='main'"}],"mark":{"type":"point","shape":"square","filled":true,"color":"#800080","size":40,"opacity":1}},
{"transform":[{"filter":"datum.series=='train'"}],"mark":{"type":"point","shape":"M-1,-1L1,1M-1,1L1,-1","filled":false,"color":"#0000ff","size":30,"strokeWidth":1.2,"opacity":1}},
{"transform":[{"filter":"datum.series=='val'"}],"mark":{"type":"point","shape":"circle","filled":true,"color":"#008000","size":40,"opacity":1}}
]}}
],"spacing":18,"resolve":{"scale":{"color":"independent","strokeDash":"independent"},"legend":{"color":"independent","strokeDash":"independent"}}}
]
}
